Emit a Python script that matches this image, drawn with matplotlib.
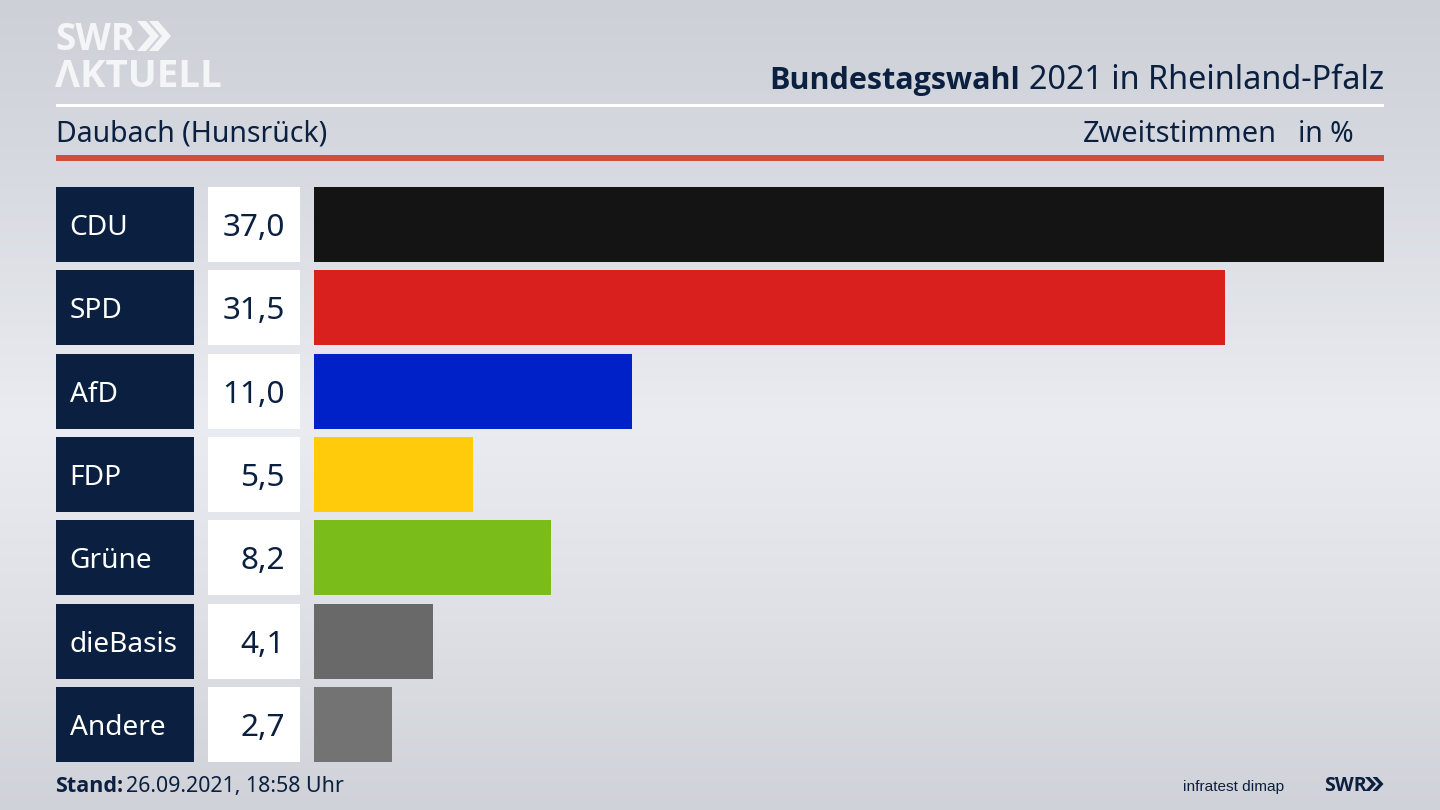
import matplotlib
matplotlib.use("Agg")
import matplotlib.pyplot as plt
import numpy as np
from matplotlib.colors import LinearSegmentedColormap
from matplotlib.patches import Polygon, Rectangle

plt.rcParams["font.family"] = ["Noto Sans", "DejaVu Sans"]

# =========================
# Data
# =========================
parties = ["CDU", "SPD", "AfD", "FDP", "Grüne", "dieBasis", "Andere"]
values = [37.0, 31.5, 11.0, 5.5, 8.2, 4.1, 2.7]
bar_colors = ["#141414", "#da1f1f", "#0021c8", "#ffcb0a", "#7abd1a", "#696969", "#737373"]

NAVY = "#0b2040"
BOLD = ["Open Sans", "DejaVu Sans"]
W, H = 1440, 810


def px_axes(fig, x0, y0, x1, y1):
    # axes placed with pixel coords measured from top left
    ax = fig.add_axes([x0 / W, 1 - y1 / H, (x1 - x0) / W, (y1 - y0) / H])
    ax.patch.set_alpha(0)
    ax.axis("off")
    return ax


def chevrons(ax, x, y_top, y_bot, w, t, gap, color):
    # two ">>" shapes of the SWR logo
    ym = (y_top + y_bot) / 2
    for i in range(2):
        x0 = x + i * gap
        pts = [(x0, y_top), (x0 + t, y_top), (x0 + t + w, ym),
               (x0 + t, y_bot), (x0, y_bot), (x0 + w, ym)]
        ax.add_patch(Polygon(pts, closed=True, fc=color, ec="none"))


fig = plt.figure(figsize=(14.4, 8.1), dpi=100)

# =========================
# Background
# =========================
bg = px_axes(fig, 0, 0, W, H)
bg.set_xlim(0, W)
bg.set_ylim(H, 0)
cmap = LinearSegmentedColormap.from_list(
    "bg", [(0, "#cdd1d7"), (0.2, "#d6d9df"), (0.52, "#eaecf1"), (0.75, "#dfe1e6"), (1, "#cfd2d8")]
)
grad = np.linspace(0, 1, 256).reshape(-1, 1)
bg.imshow(grad, aspect="auto", cmap=cmap, extent=(0, W, H, 0), vmin=0, vmax=1)

# =========================
# Header
# =========================
bg.text(55, 50, "SWR", fontsize=26.5, fontweight="bold", color="#f4f5f7", family=BOLD)
chevrons(bg, 137, 21, 51, 13, 9, 12, "#f4f5f7")
bg.text(55, 87, "ΛKTUELL", fontsize=27.6, fontweight="bold", color="#f4f5f7", family=BOLD)

title = bg.text(1384, 89, "2021 in Rheinland-Pfalz", fontsize=23.3, color=NAVY, ha="right")
fig.canvas.draw()
bb = title.get_window_extent()
bg.text(bb.x0 - 9, 89, "Bundestagswahl", fontsize=22, fontweight="bold", color=NAVY,
        ha="right", family=BOLD)

bg.add_patch(Rectangle((56, 104), 1328, 3, fc="white", ec="none"))
bg.text(56, 142, "Daubach (Hunsrück)", fontsize=20.5, color=NAVY)
bg.text(1277, 142, "Zweitstimmen", fontsize=20.8, color=NAVY, ha="right")
bg.text(1354, 142, "in %", fontsize=20.4, color=NAVY, ha="right")
bg.add_patch(Rectangle((56, 155), 1328, 6, fc="#cd4f3d", ec="none"))

# =========================
# Rows: name, value, bar
# =========================
ax_name = px_axes(fig, 56, 187, 194, 762)
ax_val = px_axes(fig, 208, 187, 300, 762)
ax_bar = px_axes(fig, 314, 187, 1384, 762)

y = np.arange(len(parties))
height = 75 / 83.3

ax_name.barh(y, 1, height=height, color=NAVY)
ax_val.barh(y, 1, height=height, color="white")
ax_bar.barh(y, values, height=height, color=bar_colors)

for ax in (ax_name, ax_val, ax_bar):
    ax.set_ylim(len(parties) - 0.5 - (1 - height) / 2, -0.5 + (1 - height) / 2)
ax_name.set_xlim(0, 1)
ax_val.set_xlim(0, 1)
ax_bar.set_xlim(0, max(values))

for i, (party, val) in enumerate(zip(parties, values)):
    ax_name.text(13.5 / 138, i, party, fontsize=20.2, color="white", va="center_baseline")
    ax_val.text(77 / 92, i, f"{val:.1f}".replace(".", ","), fontsize=22.7, color=NAVY,
                ha="right", va="center_baseline")

# =========================
# Footer
# =========================
bg.text(55, 792, "Stand:", fontsize=15.5, fontweight="bold", color=NAVY, family=BOLD)
bg.text(126, 792, "26.09.2021, 18:58 Uhr", fontsize=15.4, color=NAVY)

bg.text(1284, 791, "infratest dimap", fontsize=11.1, color=NAVY, ha="right",
        family=["Liberation Sans", "DejaVu Sans"])
bg.text(1324, 791, "SWR", fontsize=14, fontweight="bold", color=NAVY, family=BOLD)
chevrons(bg, 1365, 777, 791, 6.5, 4.5, 7.5, NAVY)

plt.savefig("out.png", dpi=100)
plt.close()
